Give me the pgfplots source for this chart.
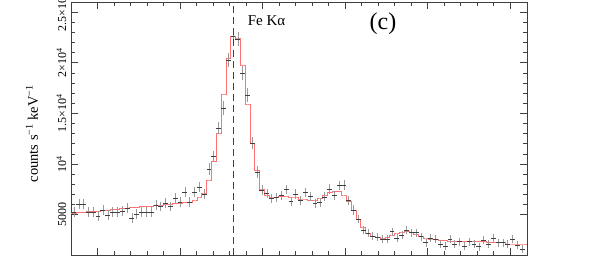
\documentclass[border=0pt]{standalone}
\usepackage{fontspec}
\setmainfont{Liberation Serif}
\usepackage{pgfplots}
\pgfplotsset{compat=1.18}
\usepackage{pgfplotstable}
\usetikzlibrary{calc}

\pgfplotstableread{
x y ey
5.357 5249 450
5.386 6039 450
5.416 6039 450
5.445 5249 450
5.474 5249 450
5.503 4854 450
5.532 5446 450
5.562 4952 450
5.591 5249 450
5.620 5249 450
5.649 5348 450
5.679 5644 450
5.708 4656 450
5.737 5051 450
5.766 5249 450
5.795 5249 450
5.825 5249 450
5.854 5941 450
5.883 5772 450
5.912 6138 450
5.941 5772 450
5.971 6632 450
6.000 6237 450
6.029 7225 450
6.058 6237 450
6.088 7225 450
6.117 7719 450
6.146 7027 450
6.175 9498 550
6.204 10713 550
6.234 13549 550
6.263 15525 650
6.292 20268 700
6.321 22639 700
6.350 22343 700
6.380 18983 700
6.409 16810 650
6.438 12067 550
6.467 9201 550
6.496 7423 450
6.526 7077 450
6.555 6583 450
6.584 6682 450
6.613 6879 450
6.643 7472 450
6.672 6267 450
6.701 7027 450
6.730 6405 450
6.759 7156 450
6.789 6780 450
6.818 6089 450
6.847 6217 450
6.876 6751 450
6.905 7521 450
6.935 6879 450
6.964 7867 450
6.993 7917 450
7.022 6405 450
7.052 5446 450
7.081 4557 420
7.110 3470 400
7.139 3174 400
7.168 2877 400
7.198 2779 400
7.227 2581 400
7.256 2581 400
7.285 3302 400
7.314 2680 400
7.344 2976 400
7.373 3470 400
7.402 3203 400
7.431 3203 400
7.460 2808 400
7.490 2215 400
7.519 2680 400
7.548 2581 400
7.577 2087 400
7.607 1889 400
7.636 2581 400
7.665 2087 400
7.694 2314 400
7.723 1889 400
7.753 2314 400
7.782 2087 400
7.811 1820 400
7.840 2482 400
7.869 2087 400
7.899 2680 400
7.928 2215 400
7.957 2215 400
7.986 2087 400
8.015 2581 400
8.045 1988 400
8.074 1563 400
}\dataA

\pgfplotstableread{
x y
5.339 5140
5.357 5140
5.386 5185
5.416 5230
5.445 5274
5.474 5319
5.503 5364
5.532 5409
5.562 5454
5.591 5498
5.620 5543
5.649 5588
5.679 5633
5.708 5678
5.737 5722
5.766 5767
5.795 5812
5.825 5857
5.854 5902
5.883 5941
5.912 5990
5.941 6039
5.971 6089
6.000 6138
6.029 6168
6.058 6188
6.088 6435
6.117 6731
6.146 7126
6.175 8411
6.204 10219
6.234 13055
6.263 16908
6.292 20466
6.321 22639
6.350 22442
6.380 19774
6.409 15920
6.438 12067
6.467 9330
6.496 7521
6.526 6929
6.555 6731
6.584 6731
6.613 6761
6.643 6830
6.672 6731
6.701 6731
6.730 6533
6.759 6533
6.789 6365
6.818 6435
6.847 6632
6.876 6929
6.905 7156
6.935 7255
6.964 7255
6.993 6929
7.022 6267
7.052 5446
7.081 4557
7.110 3767
7.139 3174
7.168 2877
7.198 2779
7.227 2680
7.256 2779
7.285 2976
7.314 3174
7.344 3273
7.373 3322
7.402 3273
7.431 3075
7.460 2828
7.490 2680
7.519 2581
7.548 2581
7.577 2433
7.607 2413
7.636 2383
7.665 2314
7.694 2314
7.723 2314
7.753 2314
7.782 2314
7.811 2314
7.840 2314
7.869 2215
7.899 2215
7.928 2215
7.957 2215
7.986 2087
8.015 2087
8.045 2087
8.074 2087
8.103 2087
}\modelA

\begin{document}
\begin{tikzpicture}
\begin{axis}[
  scale only axis,
  width=456pt, height=253pt,
  xmin=5.339, xmax=8.103,
  ymin=1000, ymax=26000,
  xtick={5.5,6,6.5,7,7.5,8},
  minor x tick num=4,
  xticklabels={},
  ytick={5000,10000,15000,20000,25000},
  yticklabels={5000, 10\textsuperscript{4}, 1.5×10\textsuperscript{4}, 2×10\textsuperscript{4}, 2.5×10\textsuperscript{4}},
  minor y tick num=4,
  scaled y ticks=false,
  major tick length=7pt,
  minor tick length=4pt,
  tick style={black!75, line width=0.5pt},
  axis line style={black!75, line width=0.6pt},
  yticklabel style={rotate=90, anchor=south, font=\fontsize{12}{13}\selectfont, inner sep=0pt},
  yticklabel shift=4.5pt,
  ylabel={counts s\textsuperscript{\char"2212 1} keV\textsuperscript{\char"2212 1}},
  ylabel style={font=\fontsize{14.5}{16}\selectfont, at={(axis description cs:-0.0855,0.48)}, anchor=center, rotate=0},
]
\addplot[red!55, line width=0.6pt, const plot mark mid, mark=none] table[x=x,y=y]{\modelA};
\addplot[draw=none, mark=none,
  error bars/.cd, y dir=both, y explicit, error mark=none,
  error bar style={draw=black!40, line width=0.5pt, solid}]
  table[x=x,y=y,y error=ey]{\dataA};
\addplot[draw=none, mark=none,
  error bars/.cd, x dir=both, x fixed=0.0146, error mark=none,
  error bar style={draw=black!75, line width=0.5pt, solid}]
  table[x=x,y=y]{\dataA};
\addplot[black!75, line width=0.6pt, dash pattern=on 7pt off 4pt] coordinates {(6.321,1000) (6.321,26000)};
\node[anchor=base west, font=\fontsize{15}{16}\selectfont, inner sep=0pt] at (axis cs:6.41,23630) {Fe Kα};
\node[anchor=center, font=\fontsize{24}{26}\selectfont, inner sep=0pt] at (axis cs:7.23,23825) {(c)};
\end{axis}
\pgfresetboundingbox
\path ($(current axis.south west)+(-71pt,-2pt)$) rectangle ($(current axis.north east)+(71pt,2pt)$);
\end{tikzpicture}
\end{document}
